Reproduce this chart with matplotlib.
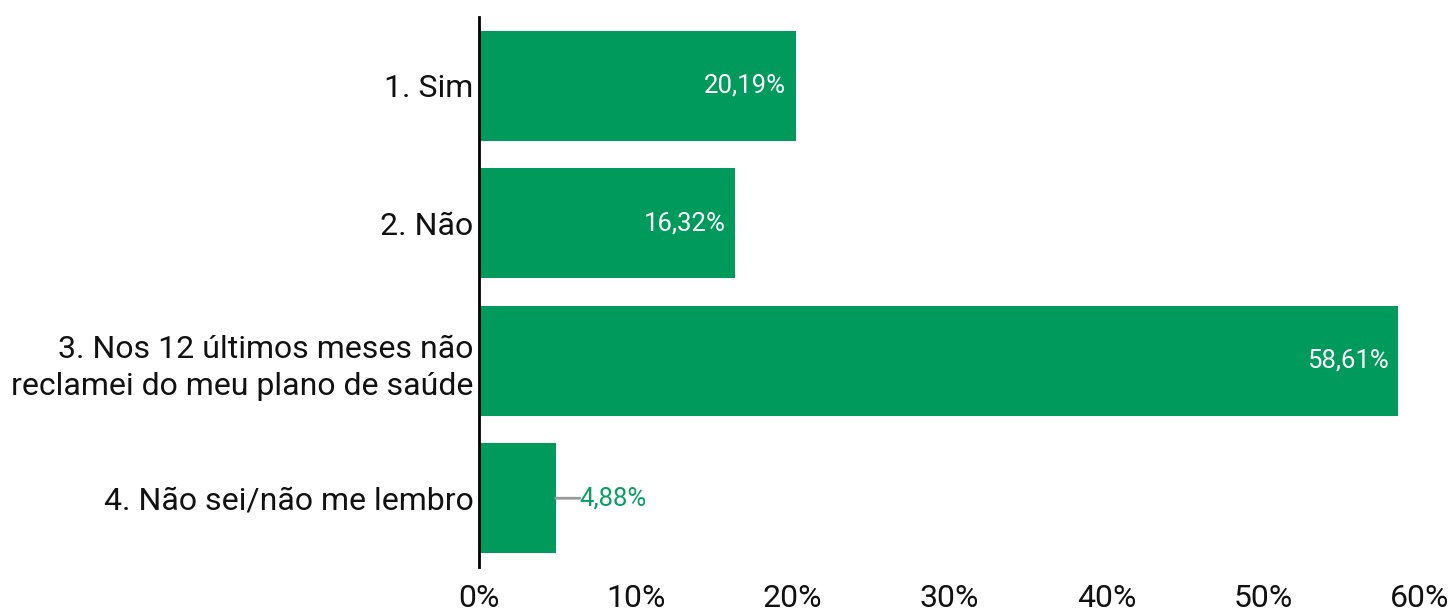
import matplotlib
matplotlib.use("Agg")
from matplotlib import pyplot as plt
from matplotlib.ticker import FuncFormatter

categories = [
    "1. Sim",
    "2. Não",
    "3. Nos 12 últimos meses não\nreclamei do meu plano de saúde",
    "4. Não sei/não me lembro",
]
values = [20.19, 16.32, 58.61, 4.88]
x_ticks = [0, 10, 20, 30, 40, 50, 60]

GREEN = "#009a5c"

plt.rcParams["font.family"] = ["Roboto", "DejaVu Sans"]

fig = plt.figure(figsize=(14.53, 6.10), dpi=100)
ax = fig.add_axes([479 / 1453, 43 / 610, (1420 - 479) / 1453, 550 / 610])

ypos = list(range(len(categories)))
ax.barh(ypos, values, height=0.8, color=GREEN, zorder=2)
ax.set_ylim(len(categories) - 0.5, -0.5)
ax.set_xlim(0, 60)

ax.set_yticks(ypos)
ax.set_yticklabels(categories, fontsize=23, color="#111111", linespacing=1.35)
ax.set_xticks(x_ticks)
ax.xaxis.set_major_formatter(FuncFormatter(lambda v, p: "{:.0f}%".format(v)))
ax.tick_params(axis="x", length=0, pad=12, labelsize=23, labelcolor="#111111")
ax.tick_params(axis="y", length=0, pad=4)

for side in ["top", "right", "bottom"]:
    ax.spines[side].set_visible(False)
ax.spines["left"].set_linewidth(2)
ax.spines["left"].set_color("black")
ax.spines["left"].set_zorder(3)

for y, v in zip(ypos, values):
    txt = "{:.2f}%".format(v).replace(".", ",")
    if v > 8:
        ax.annotate(txt, (v, y), xytext=(-7, 0), textcoords="offset points",
                    ha="right", va="center", color="white", fontsize=18.5)
    else:
        ax.annotate("", xy=(v, y), xytext=(v + 1.55, y),
                    arrowprops=dict(arrowstyle="-", color="#999999", lw=2,
                                    shrinkA=0, shrinkB=0))
        ax.text(v + 1.55, y, txt, ha="left", va="center", color="#0a9e62", fontsize=18.5)

fig.savefig("out.png", dpi=100)
